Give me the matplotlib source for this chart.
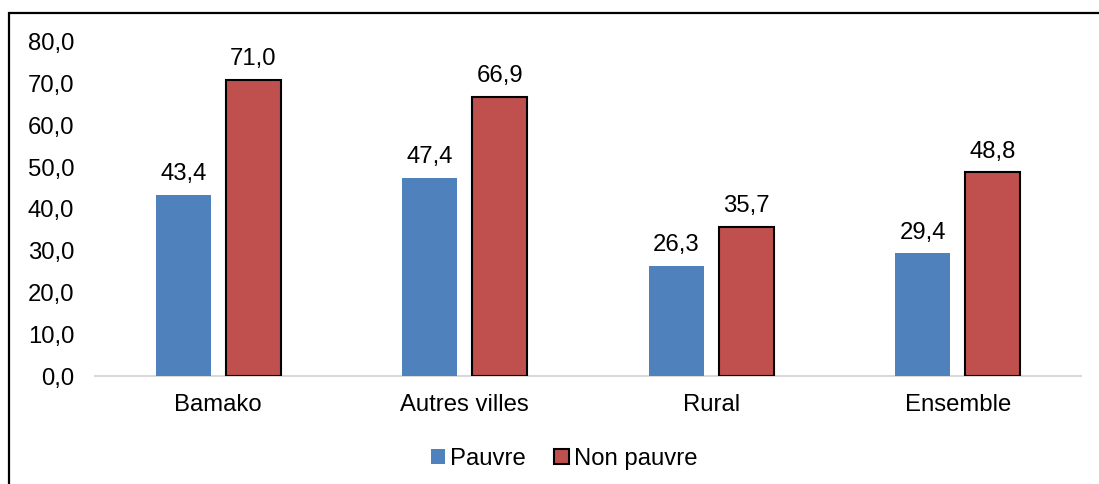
import matplotlib
matplotlib.use("Agg")
import matplotlib.pyplot as plt
import numpy as np
from matplotlib.patches import Rectangle

categories = ["Bamako", "Autres villes", "Rural", "Ensemble"]
pauvre = [43.4, 47.4, 26.3, 29.4]
non_pauvre = [71.0, 66.9, 35.7, 48.8]
yticks = [0, 10, 20, 30, 40, 50, 60, 70, 80]
series_names = ["Pauvre", "Non pauvre"]

plt.rcParams['font.family'] = ['Liberation Sans', 'DejaVu Sans']
FS = 17.2

fig = plt.figure(figsize=(10.99, 4.84), dpi=100)
ax = fig.add_axes([95/1099, 1-376/484, (1081-95)/1099, (376-42)/484])

x = np.arange(len(categories))
w = 0.223
off = 0.142
b1 = ax.bar(x - off, pauvre, w, color='#4F81BD', label=series_names[0], zorder=3)
b2 = ax.bar(x + off, non_pauvre, w, color='#C0504D', edgecolor='black', linewidth=1.5,
            label=series_names[1], zorder=3)

def fmt(v):
    return f"{v:.1f}".replace('.', ',')

for bars, vals in ((b1, pauvre), (b2, non_pauvre)):
    for r, v in zip(bars, vals):
        ax.annotate(fmt(v), (r.get_x() + r.get_width()/2, v), xytext=(0, 7),
                    textcoords='offset points', ha='center', va='bottom', fontsize=FS)

ax.set_xlim(-0.5, 3.5)
ax.set_ylim(0, 80)
ax.set_yticks(yticks)
ax.set_yticklabels([fmt(t) for t in yticks], fontsize=FS)
ax.set_xticks(x)
ax.set_xticklabels(categories, fontsize=FS)
ax.tick_params(axis='both', length=0)
ax.tick_params(axis='y', pad=15)
ax.tick_params(axis='x', pad=13)
for s in ['top', 'right', 'left']:
    ax.spines[s].set_visible(False)
ax.spines['bottom'].set_color('#D9D9D9')
ax.spines['bottom'].set_linewidth(1.5)
ax.spines['bottom'].set_zorder(2)

leg = fig.legend(handles=[b1, b2], loc='center', bbox_to_anchor=(564/1099, 1-459/484),
                 ncol=2, frameon=False, fontsize=FS, handlelength=0.6, handleheight=0.6,
                 handletextpad=0.2, columnspacing=1.2)

# outer frame
fig.patches.append(Rectangle((9/1099, -0.05), 1.2, 1 - 13/484 + 0.05, transform=fig.transFigure,
                             fill=False, edgecolor='black', linewidth=1.6, clip_on=False))
# cropped title fragment (only the bottom of the parentheses is visible)
fig.text(331/1099, 1 + 5/484, "(%)", ha='center', va='baseline', fontsize=FS, fontweight='bold')

fig.savefig("out.png", dpi=100)
